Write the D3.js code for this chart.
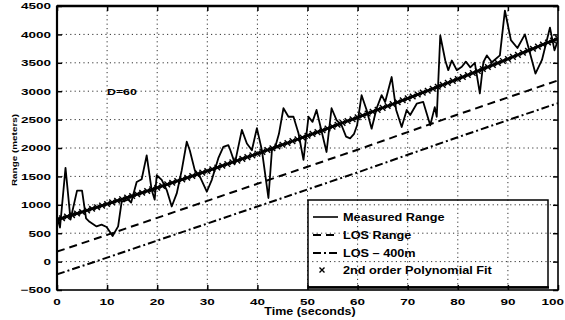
<!DOCTYPE html>
<html>
<head>
<meta charset="utf-8">
<script src="https://cdn.jsdelivr.net/npm/d3@7"></script>
<style>
  body { margin: 0; background: #fff; }
  svg { display: block; }
  text { font-family: "Liberation Sans", Arial, sans-serif; font-weight: bold; fill: #000; }
</style>
</head>
<body>
<svg id="chart" width="565" height="320"></svg>
<script>
// ---- data ----
const xTicks = [0, 10, 20, 30, 40, 50, 60, 70, 80, 90, 100];
const yTicks = [-500, 0, 500, 1000, 1500, 2000, 2500, 3000, 3500, 4000, 4500];

// measured range (s, m)
const measuredTime = [0, 0.6, 1.7, 2.7, 4.0, 5.0, 5.8, 6.5, 7.9, 8.9, 9.9, 11.1, 12.2, 12.9, 14.2, 14.8,
  15.9, 16.9, 17.9, 18.9, 19.5, 19.9, 20.9, 21.9, 22.9, 23.9, 24.9, 25.9, 26.5, 27.5, 28.5, 29.9,
  30.9, 32.2, 33.2, 34.2, 34.6, 35.5, 36.9, 37.9, 38.9, 39.9, 40.9, 42.2, 42.9, 43.5, 44.3, 45.2,
  46.2, 47.2, 48.2, 49.2, 50.2, 51.0, 51.8, 53.8, 54.8, 55.8, 56.8, 57.7, 58.5, 59.3, 59.9, 60.8,
  61.8, 62.8, 63.8, 64.8, 65.5, 66.8, 67.7, 68.8, 69.8, 70.5, 71.8, 73.1, 74.5, 75.4, 75.8, 76.5,
  77.5, 78.1, 78.8, 79.8, 80.8, 81.6, 82.5, 83.4, 84.4, 85.1, 85.8, 86.8, 88.4, 89.4, 90.6, 91.9,
  93.4, 94.2, 95.5, 96.8, 98.4, 99.3, 100];
const measuredRange = [800, 600, 1650, 740, 1250, 1250, 760, 700, 620, 650, 610, 450, 620, 1050, 1090, 1040,
  1400, 1450, 1870, 1260, 1090, 1520, 1440, 1260, 970, 1200, 1610, 2110, 1960, 1610, 1500, 1230,
  1440, 1820, 2020, 2050, 1960, 1730, 2320, 2080, 1960, 2350, 1960, 1120, 1960, 2000, 2250, 2700,
  2550, 2550, 2260, 1790, 2550, 2460, 2670, 1930, 2700, 2490, 2400, 2200, 2170, 2250, 2400, 2930,
  2670, 2340, 2700, 2930, 2810, 3250, 2670, 2370, 2670, 2580, 2780, 2810, 2400, 2720, 2550, 3980,
  3540, 3370, 3540, 3370, 3430, 3520, 3420, 3500, 2960, 3510, 3630, 3510, 3630, 4420, 3900, 3760,
  4000, 3740, 3310, 3550, 4120, 3720, 3900];

// line-of-sight range and the same shifted by 400 m
const losTime = [0, 10, 20, 30, 40, 50, 60, 70, 80, 90, 100];
const losRange = [175, 470, 770, 1070, 1370, 1670, 1970, 2280, 2590, 2890, 3190];
const losMinus400 = [-225, 70, 370, 670, 970, 1270, 1570, 1880, 2190, 2490, 2790];

// 2nd order polynomial fit sampled each second
const fitTime = [0, 1, 2, 3, 4, 5, 6, 7, 8, 9, 10, 11, 12, 13, 14, 15, 16, 17, 18, 19, 20,
  21, 22, 23, 24, 25, 26, 27, 28, 29, 30, 31, 32, 33, 34, 35, 36, 37, 38, 39, 40,
  41, 42, 43, 44, 45, 46, 47, 48, 49, 50, 51, 52, 53, 54, 55, 56, 57, 58, 59, 60,
  61, 62, 63, 64, 65, 66, 67, 68, 69, 70, 71, 72, 73, 74, 75, 76, 77, 78, 79, 80,
  81, 82, 83, 84, 85, 86, 87, 88, 89, 90, 91, 92, 93, 94, 95, 96, 97, 98, 99, 100];
const fitRange = [737, 764, 792, 819, 847, 874, 902, 930, 958, 986, 1014, 1042, 1071, 1099, 1127, 1156,
  1185, 1213, 1242, 1271, 1300, 1330, 1359, 1388, 1418, 1447, 1477, 1506, 1536, 1566, 1596,
  1626, 1656, 1687, 1717, 1748, 1778, 1809, 1840, 1870, 1901, 1932, 1964, 1995, 2026, 2058,
  2089, 2121, 2152, 2184, 2216, 2248, 2280, 2312, 2344, 2377, 2409, 2442, 2474, 2507, 2540,
  2573, 2606, 2639, 2672, 2706, 2739, 2772, 2806, 2840, 2873, 2907, 2941, 2975, 3009, 3044,
  3078, 3112, 3147, 3181, 3216, 3251, 3286, 3321, 3356, 3391, 3426, 3462, 3497, 3533, 3568,
  3604, 3640, 3676, 3712, 3748, 3784, 3821, 3857, 3893, 3930];

const legendLabels = ["Measured Range", "LOS Range", "LOS \u2013 400m", "2nd order Polynomial Fit"];

// ---- layout ----
const plot = { left: 57, right: 558, top: 6, bottom: 290 };
const x = d3.scaleLinear().domain([0, 100]).range([plot.left, plot.right]);
const y = d3.scaleLinear().domain([-500, 4500]).range([plot.bottom, plot.top]);
const svg = d3.select("#chart");

// stretched bold text helper (wide, short glyphs)
function label(g, tx, ty, str, size, sx, anchor, rot) {
  return g.append("text")
    .attr("transform", `translate(${tx},${ty})${rot ? ` rotate(${rot})` : ""} scale(${sx},1)`)
    .attr("font-size", size)
    .attr("text-anchor", anchor || "start")
    .text(str);
}

// dotted grid
const grid = svg.append("g");
grid.selectAll("line.gx").data(xTicks.slice(1, -1)).join("line")
  .attr("x1", d => x(d)).attr("x2", d => x(d))
  .attr("y1", plot.top).attr("y2", plot.bottom)
  .attr("stroke", "#333").attr("stroke-width", 1).attr("stroke-dasharray", "1.2,3.2");
grid.selectAll("line.gy").data(yTicks.slice(1, -1)).join("line")
  .attr("x1", plot.left).attr("x2", plot.right)
  .attr("y1", d => y(d)).attr("y2", d => y(d))
  .attr("stroke", "#333").attr("stroke-width", 1).attr("stroke-dasharray", "1.2,3.2");

// axes with inward ticks on all four sides
const axL = svg.append("g").attr("transform", `translate(${plot.left},0)`)
  .call(d3.axisLeft(y).tickValues(yTicks).tickSize(-5).tickFormat(""));
const axR = svg.append("g").attr("transform", `translate(${plot.right},0)`)
  .call(d3.axisRight(y).tickValues(yTicks).tickSize(-5).tickFormat(""));
const axB = svg.append("g").attr("transform", `translate(0,${plot.bottom})`)
  .call(d3.axisBottom(x).tickValues(xTicks).tickSize(-5).tickFormat(""));
const axT = svg.append("g").attr("transform", `translate(0,${plot.top})`)
  .call(d3.axisTop(x).tickValues(xTicks).tickSize(-5).tickFormat(""));
[axL, axR, axB, axT].forEach(a => {
  a.select(".domain").remove();
  a.selectAll(".tick line").attr("stroke", "#000").attr("stroke-width", 1.5);
});

// tick labels (the last x label is kept inside the right edge)
const tickLabels = svg.append("g");
const fmt = d3.format("d");
yTicks.forEach(v => label(tickLabels, 51, y(v) + 3.3, fmt(v).replace("-", "\u2212"), 9, 1.5, "end"));
xTicks.forEach(v => {
  if (v === 100) label(tickLabels, 564, 305, fmt(v), 9, 1.5, "end");
  else label(tickLabels, x(v), 305, fmt(v), 9, 1.5, "middle");
});

// axis titles
label(svg, 310, 315, "Time (seconds)", 10, 1.25, "middle");
label(svg, 17, 150, "Range (meters)", 8, 1.24, "middle", -90);
label(svg, 107, 95, "D=60", 9.5, 1.3, "start");

// series
svg.append("clipPath").attr("id", "plotclip").append("rect")
  .attr("x", plot.left).attr("y", plot.top)
  .attr("width", plot.right - plot.left).attr("height", plot.bottom - plot.top);
const series = svg.append("g").attr("clip-path", "url(#plotclip)");

const line = d3.line().x(d => x(d[0])).y(d => y(d[1]));

series.append("path")
  .datum(losTime.map((t, i) => [t, losMinus400[i]]))
  .attr("d", line).attr("fill", "none").attr("stroke", "#000")
  .attr("stroke-width", 2).attr("stroke-dasharray", "8,3,2,3");

series.append("path")
  .datum(losTime.map((t, i) => [t, losRange[i]]))
  .attr("d", line).attr("fill", "none").attr("stroke", "#000")
  .attr("stroke-width", 2).attr("stroke-dasharray", "8,5");

series.append("path")
  .datum(measuredTime.map((t, i) => [t, measuredRange[i]]))
  .attr("d", line).attr("fill", "none").attr("stroke", "#000")
  .attr("stroke-width", 1.8).attr("stroke-linejoin", "round");

const fitPts = fitTime.map((t, i) => [t, fitRange[i]]);
series.append("path")
  .datum(fitPts)
  .attr("d", line).attr("fill", "none").attr("stroke", "#000").attr("stroke-width", 2.6);

const cross = (g, cx, cy, s) => g.append("path")
  .attr("d", `M${cx - s},${cy - s}L${cx + s},${cy + s}M${cx - s},${cy + s}L${cx + s},${cy - s}`)
  .attr("stroke", "#000").attr("stroke-width", 1.4).attr("fill", "none");
const markers = series.append("g");
fitPts.forEach(p => cross(markers, x(p[0]), y(p[1]), 2.8));

// plot frame
const frame = svg.append("g").attr("fill", "none").attr("stroke", "#000");
frame.append("rect").attr("x", plot.left).attr("y", plot.top)
  .attr("width", plot.right - plot.left).attr("height", plot.bottom - plot.top)
  .attr("stroke-width", 1.6);
frame.append("line").attr("x1", plot.left).attr("x2", plot.right)
  .attr("y1", plot.top).attr("y2", plot.top).attr("stroke-width", 2.6);
frame.append("line").attr("x1", plot.left).attr("x2", plot.left)
  .attr("y1", plot.top).attr("y2", plot.bottom).attr("stroke-width", 2.2);

// legend
const lg = svg.append("g");
lg.append("rect").attr("x", 308).attr("y", 200).attr("width", 240).attr("height", 87)
  .attr("fill", "none").attr("stroke", "#000").attr("stroke-width", 1.5);
lg.append("line").attr("x1", 308).attr("x2", 549).attr("y1", 287.5).attr("y2", 287.5)
  .attr("stroke", "#000").attr("stroke-width", 2.5);
const rows = [217, 235, 253, 270];
const sampleStyles = [null, "8,5", "8,3,2,3"];
rows.forEach((ry, i) => {
  if (i < 3) {
    lg.append("line").attr("x1", 313).attr("x2", 338).attr("y1", ry).attr("y2", ry)
      .attr("stroke", "#000").attr("stroke-width", i === 0 ? 1.6 : 2)
      .attr("stroke-dasharray", sampleStyles[i]);
  } else {
    cross(lg, 322, ry, 2.5);
  }
  label(lg, 343, ry + 3.5, legendLabels[i], 10, 1.27, "start");
});
</script>
</body>
</html>
